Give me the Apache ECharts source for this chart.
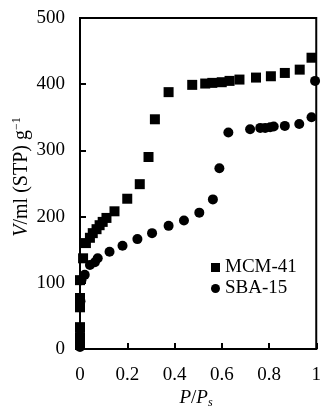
<!DOCTYPE html>
<html>
<head>
<meta charset="utf-8">
<script src="https://cdn.jsdelivr.net/npm/echarts@6/dist/echarts.min.js"></script>
<style>
  html, body { margin: 0; padding: 0; background: #fff; }
  #chart { width: 324px; height: 408px; }
</style>
</head>
<body>
<div id="chart"></div>
<script>
// MCM-41 isotherm points (P/Ps, V)
const mcmX = [0, 0, 0, 0, 0, 0, 0.013, 0.025, 0.042, 0.054, 0.07, 0.083, 0.096, 0.112, 0.146, 0.2, 0.253, 0.29, 0.317, 0.375, 0.475, 0.53, 0.56, 0.6, 0.633, 0.675, 0.745, 0.808, 0.867, 0.93, 0.98]
const mcmY = [6, 18, 33, 63, 77, 104, 137, 160, 168, 175, 181, 187, 192, 198, 208, 227, 249, 290, 347, 388, 399, 401, 402, 403, 405, 407, 410, 412, 417, 422, 440]

// SBA-15 isotherm points
const sbaX = [0, 0, 0, 0.002, 0.006, 0.02, 0.042, 0.063, 0.075, 0.125, 0.18, 0.243, 0.305, 0.375, 0.44, 0.505, 0.5625, 0.59, 0.628, 0.72, 0.763, 0.784, 0.805, 0.82, 0.867, 0.928, 0.98, 0.995]
const sbaY = [3, 10, 30, 72, 104, 112, 127, 131, 137, 147, 156, 166, 175, 186, 194, 206, 226, 273, 327, 332, 334, 334, 335, 336, 337, 340, 350, 405]

const xTickLabels = ['0', '0.2', '0.4', '0.6', '0.8', '1']
const yTickLabels = ['0', '100', '200', '300', '400', '500']

const font = 'Liberation Serif'

const chart = echarts.init(document.getElementById('chart'))

const option = {
  animation: false,
  grid: {
    left: 80,
    right: 4,
    top: 18,
    bottom: 59,
    show: true,
    borderColor: '#000',
    borderWidth: 2,
  },
  legend: {
    orient: 'vertical',
    left: 206,
    top: 253,
    itemWidth: 9,
    itemHeight: 9,
    itemGap: 2,
    textStyle: { fontFamily: font, fontSize: 19, color: '#000' },
    data: [
      { name: 'MCM-41', icon: 'rect' },
      { name: 'SBA-15', icon: 'circle' },
    ],
  },
  xAxis: {
    type: 'value',
    min: 0,
    max: 1,
    interval: 0.2,
    splitLine: { show: false },
    axisLine: { lineStyle: { color: '#000', width: 2 } },
    axisTick: { inside: true, length: 6, lineStyle: { color: '#000', width: 2 } },
    axisLabel: {
      margin: 17,
      fontFamily: font,
      fontSize: 19,
      color: '#000',
      formatter: (v) => xTickLabels[Math.round(v / 0.2)],
    },
  },
  yAxis: {
    type: 'value',
    min: 0,
    max: 500,
    interval: 100,
    splitLine: { show: false },
    axisLine: { lineStyle: { color: '#000', width: 2 } },
    axisTick: { inside: true, length: 6, lineStyle: { color: '#000', width: 2 } },
    axisLabel: {
      margin: 15,
      fontFamily: font,
      fontSize: 19,
      color: '#000',
      formatter: (v) => yTickLabels[Math.round(v / 100)],
    },
  },
  graphic: [
    {
      type: 'text',
      x: 22,
      y: 177,
      rotation: Math.PI / 2,
      style: {
        text: '{i|V}/ml (STP) g{sup|−1}',
        fontFamily: font,
        fontSize: 20,
        fill: '#000',
        align: 'center',
        verticalAlign: 'middle',
        rich: {
          i: { fontFamily: font, fontSize: 20, fontStyle: 'italic' },
          sup: { fontFamily: font, fontSize: 12, padding: [0, 0, 10, 0] },
        },
      },
    },
    {
      type: 'text',
      x: 196,
      y: 398,
      style: {
        text: '{i|P}/{i|P}{sub|s}',
        fontFamily: font,
        fontSize: 19,
        fill: '#000',
        align: 'center',
        verticalAlign: 'middle',
        rich: {
          i: { fontFamily: font, fontSize: 19, fontStyle: 'italic' },
          sub: { fontFamily: font, fontSize: 12, fontStyle: 'italic', padding: [9, 0, 0, 0] },
        },
      },
    },
  ],
  series: [
    {
      name: 'MCM-41',
      type: 'scatter',
      symbol: 'rect',
      symbolSize: 10,
      itemStyle: { color: '#000', opacity: 1 },
      data: mcmX.map((x, i) => [x, mcmY[i]]),
    },
    {
      name: 'SBA-15',
      type: 'scatter',
      symbol: 'circle',
      symbolSize: 10,
      itemStyle: { color: '#000', opacity: 1 },
      data: sbaX.map((x, i) => [x, sbaY[i]]),
    },
  ],
}

chart.setOption(option)
</script>
</body>
</html>
